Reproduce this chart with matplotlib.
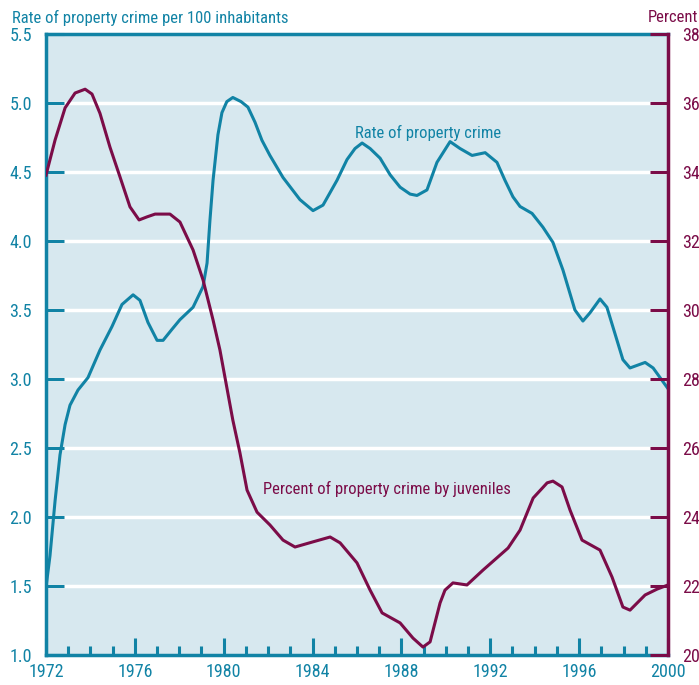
import matplotlib.pyplot as plt

plt.rcParams['font.family'] = ['Roboto Condensed', 'Liberation Sans', 'DejaVu Sans']

teal = '#1183a5'
maroon = '#7b0c48'
bg = '#d7e8ef'

# rate of property crime per 100 inhabitants
rateYears = [1972.0, 1972.18, 1972.41, 1972.63, 1972.86, 1973.08, 1973.44, 1973.89, 1974.43,
             1974.97, 1975.42, 1975.92, 1976.23, 1976.59, 1977.0, 1977.27, 1977.67, 1978.03,
             1978.62, 1979.07, 1979.25, 1979.38, 1979.52, 1979.74, 1979.92, 1980.14, 1980.41,
             1980.78, 1981.09, 1981.41, 1981.72, 1982.08, 1982.67, 1983.43, 1984.02, 1984.47,
             1985.1, 1985.55, 1985.91, 1986.23, 1986.59, 1987.04, 1987.49, 1987.94, 1988.39,
             1988.7, 1989.15, 1989.6, 1990.19, 1990.64, 1991.18, 1991.77, 1992.3, 1992.66,
             1993.02, 1993.34, 1993.88, 1994.37, 1994.82, 1995.27, 1995.81, 1996.17, 1996.49,
             1996.94, 1997.25, 1997.61, 1997.97, 1998.29, 1998.97, 1999.33, 2000.0]
rateValues = [1.49, 1.72, 2.12, 2.45, 2.67, 2.81, 2.92, 3.01, 3.21,
              3.38, 3.54, 3.61, 3.57, 3.41, 3.28, 3.28, 3.36, 3.43,
              3.52, 3.67, 3.84, 4.15, 4.44, 4.77, 4.93, 5.01, 5.04,
              5.01, 4.97, 4.86, 4.73, 4.62, 4.46, 4.30, 4.22, 4.26,
              4.44, 4.59, 4.67, 4.71, 4.67, 4.60, 4.48, 4.39, 4.34,
              4.33, 4.37, 4.57, 4.72, 4.67, 4.62, 4.64, 4.57, 4.44,
              4.32, 4.25, 4.20, 4.10, 3.99, 3.79, 3.50, 3.42, 3.48,
              3.58, 3.52, 3.33, 3.14, 3.08, 3.12, 3.08, 2.93]

# percent of property crime by juveniles
juvYears = [1972.0, 1972.41, 1972.86, 1973.31, 1973.76, 1974.07, 1974.43, 1974.88, 1975.33,
            1975.78, 1976.19, 1976.55, 1976.91, 1977.58, 1978.03, 1978.62, 1979.07, 1979.52,
            1979.83, 1980.41, 1980.73, 1981.05, 1981.5, 1982.08, 1982.67, 1983.21, 1984.02,
            1984.79, 1985.24, 1986.0, 1986.59, 1987.13, 1987.94, 1988.52, 1988.97, 1989.29,
            1989.74, 1989.96, 1990.32, 1990.95, 1991.67, 1992.8, 1993.34, 1993.93, 1994.56,
            1994.82, 1995.23, 1995.59, 1996.13, 1996.94, 1997.48, 1997.97, 1998.29, 1998.97,
            1999.51, 2000.0]
juvValues = [33.91, 34.93, 35.86, 36.29, 36.40, 36.26, 35.70, 34.72, 33.86,
             32.99, 32.61, 32.70, 32.78, 32.78, 32.55, 31.74, 30.87, 29.71,
             28.84, 26.81, 25.86, 24.78, 24.14, 23.77, 23.33, 23.13, 23.28,
             23.42, 23.25, 22.67, 21.88, 21.22, 20.93, 20.49, 20.23, 20.38,
             21.51, 21.88, 22.09, 22.03, 22.46, 23.10, 23.62, 24.55, 24.99,
             25.04, 24.87, 24.20, 23.33, 23.04, 22.26, 21.39, 21.30, 21.74,
             21.91, 22.03]

fig = plt.figure(figsize=(6.99, 6.85), dpi=100)
ax = fig.add_axes([46/699, 1-655/685, 622/699, 621/685])
ax.set_facecolor(bg)
ax2 = ax.twinx()

leftTicks = [1.0, 1.5, 2.0, 2.5, 3.0, 3.5, 4.0, 4.5, 5.0, 5.5]
for v in leftTicks[1:-1]:
    ax.axhline(v, color='white', lw=2.5, zorder=1)

ax.plot(rateYears, rateValues, color=teal, lw=2.2, zorder=3, solid_joinstyle='round')
ax2.plot(juvYears, juvValues, color=maroon, lw=2.2, zorder=3, solid_joinstyle='round')

ax.set_xlim(1972, 2000)
ax.set_ylim(1.0, 5.5)
ax2.set_ylim(20, 38)

ax.set_xticks(range(1972, 2001, 4))
ax.set_xticks(range(1972, 2001), minor=True)
ax.set_yticks(leftTicks)
ax.set_yticklabels(['%.1f' % v for v in leftTicks])
ax2.set_yticks(range(20, 39, 2))

ax.tick_params(axis='x', which='major', direction='in', length=12, width=2.2,
               color=teal, labelcolor=teal, labelsize=13, pad=6)
ax.tick_params(axis='x', which='minor', direction='in', length=6.5, width=2.2, color=teal)
ax.tick_params(axis='y', direction='in', length=13, width=2.2, color=teal,
               labelcolor=teal, labelsize=13, pad=10)
ax2.tick_params(axis='y', direction='in', length=13, width=2.2, color=maroon,
                labelcolor=maroon, labelsize=13, pad=10)

for name in ['left', 'top', 'bottom']:
    ax.spines[name].set_color(teal)
    ax.spines[name].set_linewidth(2.5)
    ax2.spines[name].set_visible(False)
ax.spines['right'].set_visible(False)
ax2.spines['right'].set_color(maroon)
ax2.spines['right'].set_linewidth(2.5)

fig.text(12/699, 1-18/685, 'Rate of property crime per 100 inhabitants',
         color=teal, fontsize=12, ha='left', va='center')
fig.text(698/699, 1-18/685, 'Percent', color=maroon, fontsize=12, ha='right', va='center')

ax.text(1985.9, 4.78, 'Rate of property crime', color=teal, fontsize=12, ha='left', va='center')
ax.text(1981.75, 2.2, 'Percent of property crime by juveniles', color=maroon,
        fontsize=12, ha='left', va='center')

plt.savefig('out.png', dpi=100)
